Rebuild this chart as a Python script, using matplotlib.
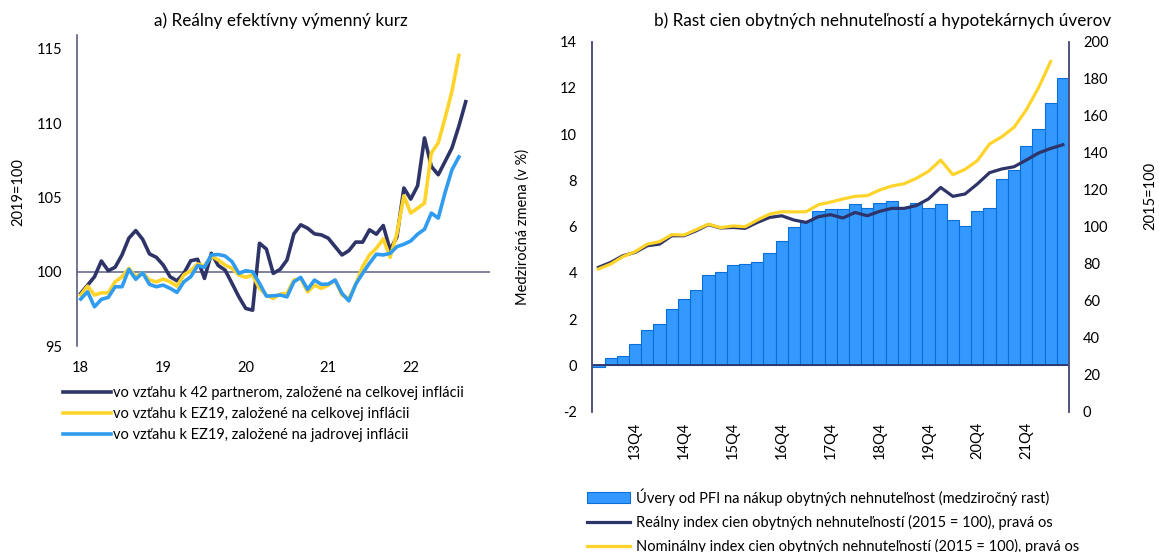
import numpy as np
import matplotlib
matplotlib.use("Agg")
import matplotlib.pyplot as plt

plt.rcParams['font.family'] = ['Lato', 'DejaVu Sans']
plt.rcParams['axes.unicode_minus'] = False

# a) real effective exchange rate, monthly from Jan 2018 (2019=100)
reer_42_total = [98.54, 99.10, 99.66, 100.72, 100.07, 100.30, 101.13, 102.26, 102.77, 102.19,
                 101.20, 100.97, 100.45, 99.66, 99.39, 99.89, 100.74, 100.84, 99.55, 101.24,
                 100.42, 100.11, 99.22, 98.31, 97.53, 97.41, 101.92, 101.53, 99.89, 100.16,
                 100.79, 102.55, 103.16, 102.93, 102.55, 102.48, 102.26, 101.69, 101.13, 101.42,
                 102.00, 101.99, 102.82, 102.53, 103.11, 101.47, 102.36, 105.64, 104.89, 105.79,
                 109.01, 107.09, 106.53, 107.43, 108.34, 109.80, 111.45]
reer_ez_total = [98.43, 99.03, 98.43, 98.58, 98.58, 99.32, 99.66, 100.23, 99.66, 99.93,
                 99.44, 99.32, 99.51, 99.32, 99.03, 99.78, 100.07, 100.52, 100.39, 101.06,
                 100.79, 100.45, 100.23, 99.78, 99.62, 99.78, 98.88, 98.43, 98.20, 98.49,
                 98.54, 99.44, 99.55, 98.65, 99.10, 98.88, 99.10, 99.44, 98.43, 98.20,
                 99.15, 100.34, 101.13, 101.58, 102.21, 100.97, 102.59, 105.11, 103.95, 104.28,
                 104.62, 108.00, 108.68, 110.36, 112.16, 114.57]
reer_ez_core = [98.16, 98.65, 97.64, 98.14, 98.27, 98.99, 98.99, 100.16, 99.49, 99.93,
                99.15, 98.99, 99.10, 98.88, 98.61, 99.32, 99.66, 100.41, 100.30, 101.13,
                101.16, 101.06, 100.68, 99.89, 100.07, 100.00, 99.22, 98.36, 98.38, 98.43,
                98.31, 99.32, 99.62, 98.81, 99.44, 99.15, 99.17, 99.44, 98.54, 98.04,
                99.16, 99.89, 100.57, 101.18, 101.13, 101.24, 101.69, 101.85, 102.07, 102.53,
                102.86, 103.95, 103.61, 105.34, 106.87, 107.73]
year_labels = ['18', '19', '20', '21', '22']
n_months = 60

# b) house prices and mortgage loans, quarterly from 13Q1
loans_growth = [-0.05, 0.33, 0.43, 0.91, 1.55, 1.80, 2.44, 2.89, 3.25, 3.93,
                4.05, 4.36, 4.40, 4.46, 4.86, 5.37, 5.97, 6.25, 6.67, 6.75,
                6.75, 6.98, 6.80, 7.01, 7.13, 6.83, 7.01, 6.83, 7.00, 6.31,
                6.05, 6.70, 6.80, 8.08, 8.47, 9.48, 10.22, 11.33, 12.45]
real_hpi = [78.0, 80.7, 84.3, 86.1, 89.7, 90.6, 95.1, 95.1, 97.8, 101.1,
            99.3, 99.6, 99.1, 102.3, 105.0, 105.9, 103.6, 102.3, 105.4, 106.5,
            104.7, 107.7, 105.9, 108.3, 109.9, 109.9, 111.4, 115.0, 121.2, 116.4,
            117.7, 123.1, 129.2, 131.2, 132.4, 136.0, 139.8, 142.3, 144.3]
nominal_hpi = [77.1, 79.8, 83.8, 86.5, 90.6, 91.9, 95.7, 95.5, 98.4, 101.4,
               99.5, 100.4, 100.0, 103.6, 106.8, 108.1, 108.0, 108.1, 111.9, 113.3,
               115.0, 116.4, 116.8, 119.8, 122.0, 123.2, 126.1, 129.9, 136.0, 128.1,
               131.0, 135.7, 144.7, 148.6, 153.7, 163.1, 175.0, 189.3]
quarter_labels = ['13Q4', '14Q4', '15Q4', '16Q4', '17Q4', '18Q4', '19Q4', '20Q4', '21Q4']

navy = '#2f3468'
yellow = '#ffd42a'
lblue = '#2f9cf2'
spine_col = '#4a4e78'
fs = 10.5

W, H = 1159, 552
fig = plt.figure(figsize=(W / 100, H / 100), dpi=100)

# ---------- a) ----------
ax1 = fig.add_axes([77.3 / W, 1 - 346 / H, 412.5 / W, 311 / H])
m = np.arange(n_months)
ax1.plot(m[:len(reer_42_total)], reer_42_total, color=navy, lw=2.6,
         label='vo vzťahu k 42 partnerom, založené na celkovej inflácii')
ax1.plot(m[:len(reer_ez_total)], reer_ez_total, color=yellow, lw=2.6,
         label='vo vzťahu k EZ19, založené na celkovej inflácii')
ax1.plot(m[:len(reer_ez_core)], reer_ez_core, color=lblue, lw=2.6,
         label='vo vzťahu k EZ19, založené na jadrovej inflácii')
ax1.axhline(100, color='#5c6084', lw=1.1, zorder=1)
ax1.set_xlim(-0.5, n_months - 0.5)
ax1.set_ylim(95, 115.94)
ax1.set_yticks([95, 100, 105, 110, 115])
ax1.set_xticks(np.arange(0, n_months, 12))
ax1.set_xticklabels(year_labels)
ax1.tick_params(axis='both', length=0, labelsize=fs)
ax1.tick_params(axis='x', pad=11)
ax1.tick_params(axis='y', pad=11)
for s in ['top', 'right', 'bottom']:
    ax1.spines[s].set_visible(False)
ax1.spines['left'].set_color(spine_col)
ax1.spines['left'].set_linewidth(1.1)
ax1.legend(loc='upper left', bbox_to_anchor=(63 / W, 1 - 386 / H),
           bbox_transform=fig.transFigure, frameon=False, fontsize=fs,
           borderpad=0, borderaxespad=0, handlelength=3.3, handletextpad=0.15,
           labelspacing=0.47)
fig.text(281 / W, 1 - 21 / H, 'a) Reálny efektívny výmenný kurz', ha='center', va='center',
         fontsize=12.3)
fig.text(18 / W, 1 - 192 / H, '2019=100', rotation=90, ha='center', va='center', fontsize=fs)

# ---------- b) ----------
ax2 = fig.add_axes([592.3 / W, 1 - 411.7 / H, 476.7 / W, 370 / H])
q = np.arange(len(loans_growth))
ax2.bar(q, loans_growth, width=1.0, color='#3399ff', edgecolor='#0b6fd8', linewidth=0.8,
        label='Úvery od PFI na nákup obytných nehnuteľnost (medziročný rast)')
ax2.axhline(0, color=navy, lw=1.3)
ax2.set_xlim(-0.5, len(loans_growth) - 0.5)
ax2.set_ylim(-2, 14)
ax2.set_yticks(np.arange(-2, 15, 2))
ax2.set_xticks(np.arange(3, len(loans_growth), 4))
ax2.set_xticklabels(quarter_labels, rotation=90)
ax2.tick_params(axis='both', length=0, labelsize=fs)
ax2.tick_params(axis='x', pad=7)
ax2.tick_params(axis='y', pad=11)
ax2.set_ylabel('Medziročná zmena (v %)', fontsize=fs)
ax2.yaxis.set_label_coords((530 - 592.3) / 476.7, 0.5)

ax2r = ax2.twinx()
ax2r.plot(q[:len(real_hpi)], real_hpi, color=navy, lw=2.3,
          label='Reálny index cien obytných nehnuteľností (2015 = 100), pravá os')
ax2r.plot(q[:len(nominal_hpi)], nominal_hpi, color=yellow, lw=2.3,
          label='Nominálny index cien obytných nehnuteľností (2015 = 100), pravá os')
ax2r.set_ylim(0, 200)
ax2r.set_yticks(np.arange(0, 201, 20))
ax2r.tick_params(axis='y', length=0, labelsize=fs, pad=10)

for a in (ax2, ax2r):
    for s in ['top', 'bottom']:
        a.spines[s].set_visible(False)
    a.spines['left'].set_color(spine_col)
    a.spines['right'].set_color(spine_col)
    a.spines['left'].set_linewidth(1.1)
    a.spines['right'].set_linewidth(1.1)

h1, l1 = ax2.get_legend_handles_labels()
h2, l2 = ax2r.get_legend_handles_labels()
fig.legend(h1 + h2, l1 + l2, loc='upper left', bbox_to_anchor=(586.7 / W, 1 - 488 / H),
           frameon=False, fontsize=fs, borderpad=0, borderaxespad=0,
           handlelength=3.0, handletextpad=0.35, labelspacing=0.62)

fig.text(883 / W, 1 - 21 / H, 'b) Rast cien obytných nehnuteľností a hypotekárnych úverov',
         ha='center', va='center', fontsize=12.3)
fig.text(1150 / W, 1 - 196 / H, '2015=100', rotation=90, ha='center', va='center', fontsize=fs)

fig.savefig('out.png', dpi=100)
